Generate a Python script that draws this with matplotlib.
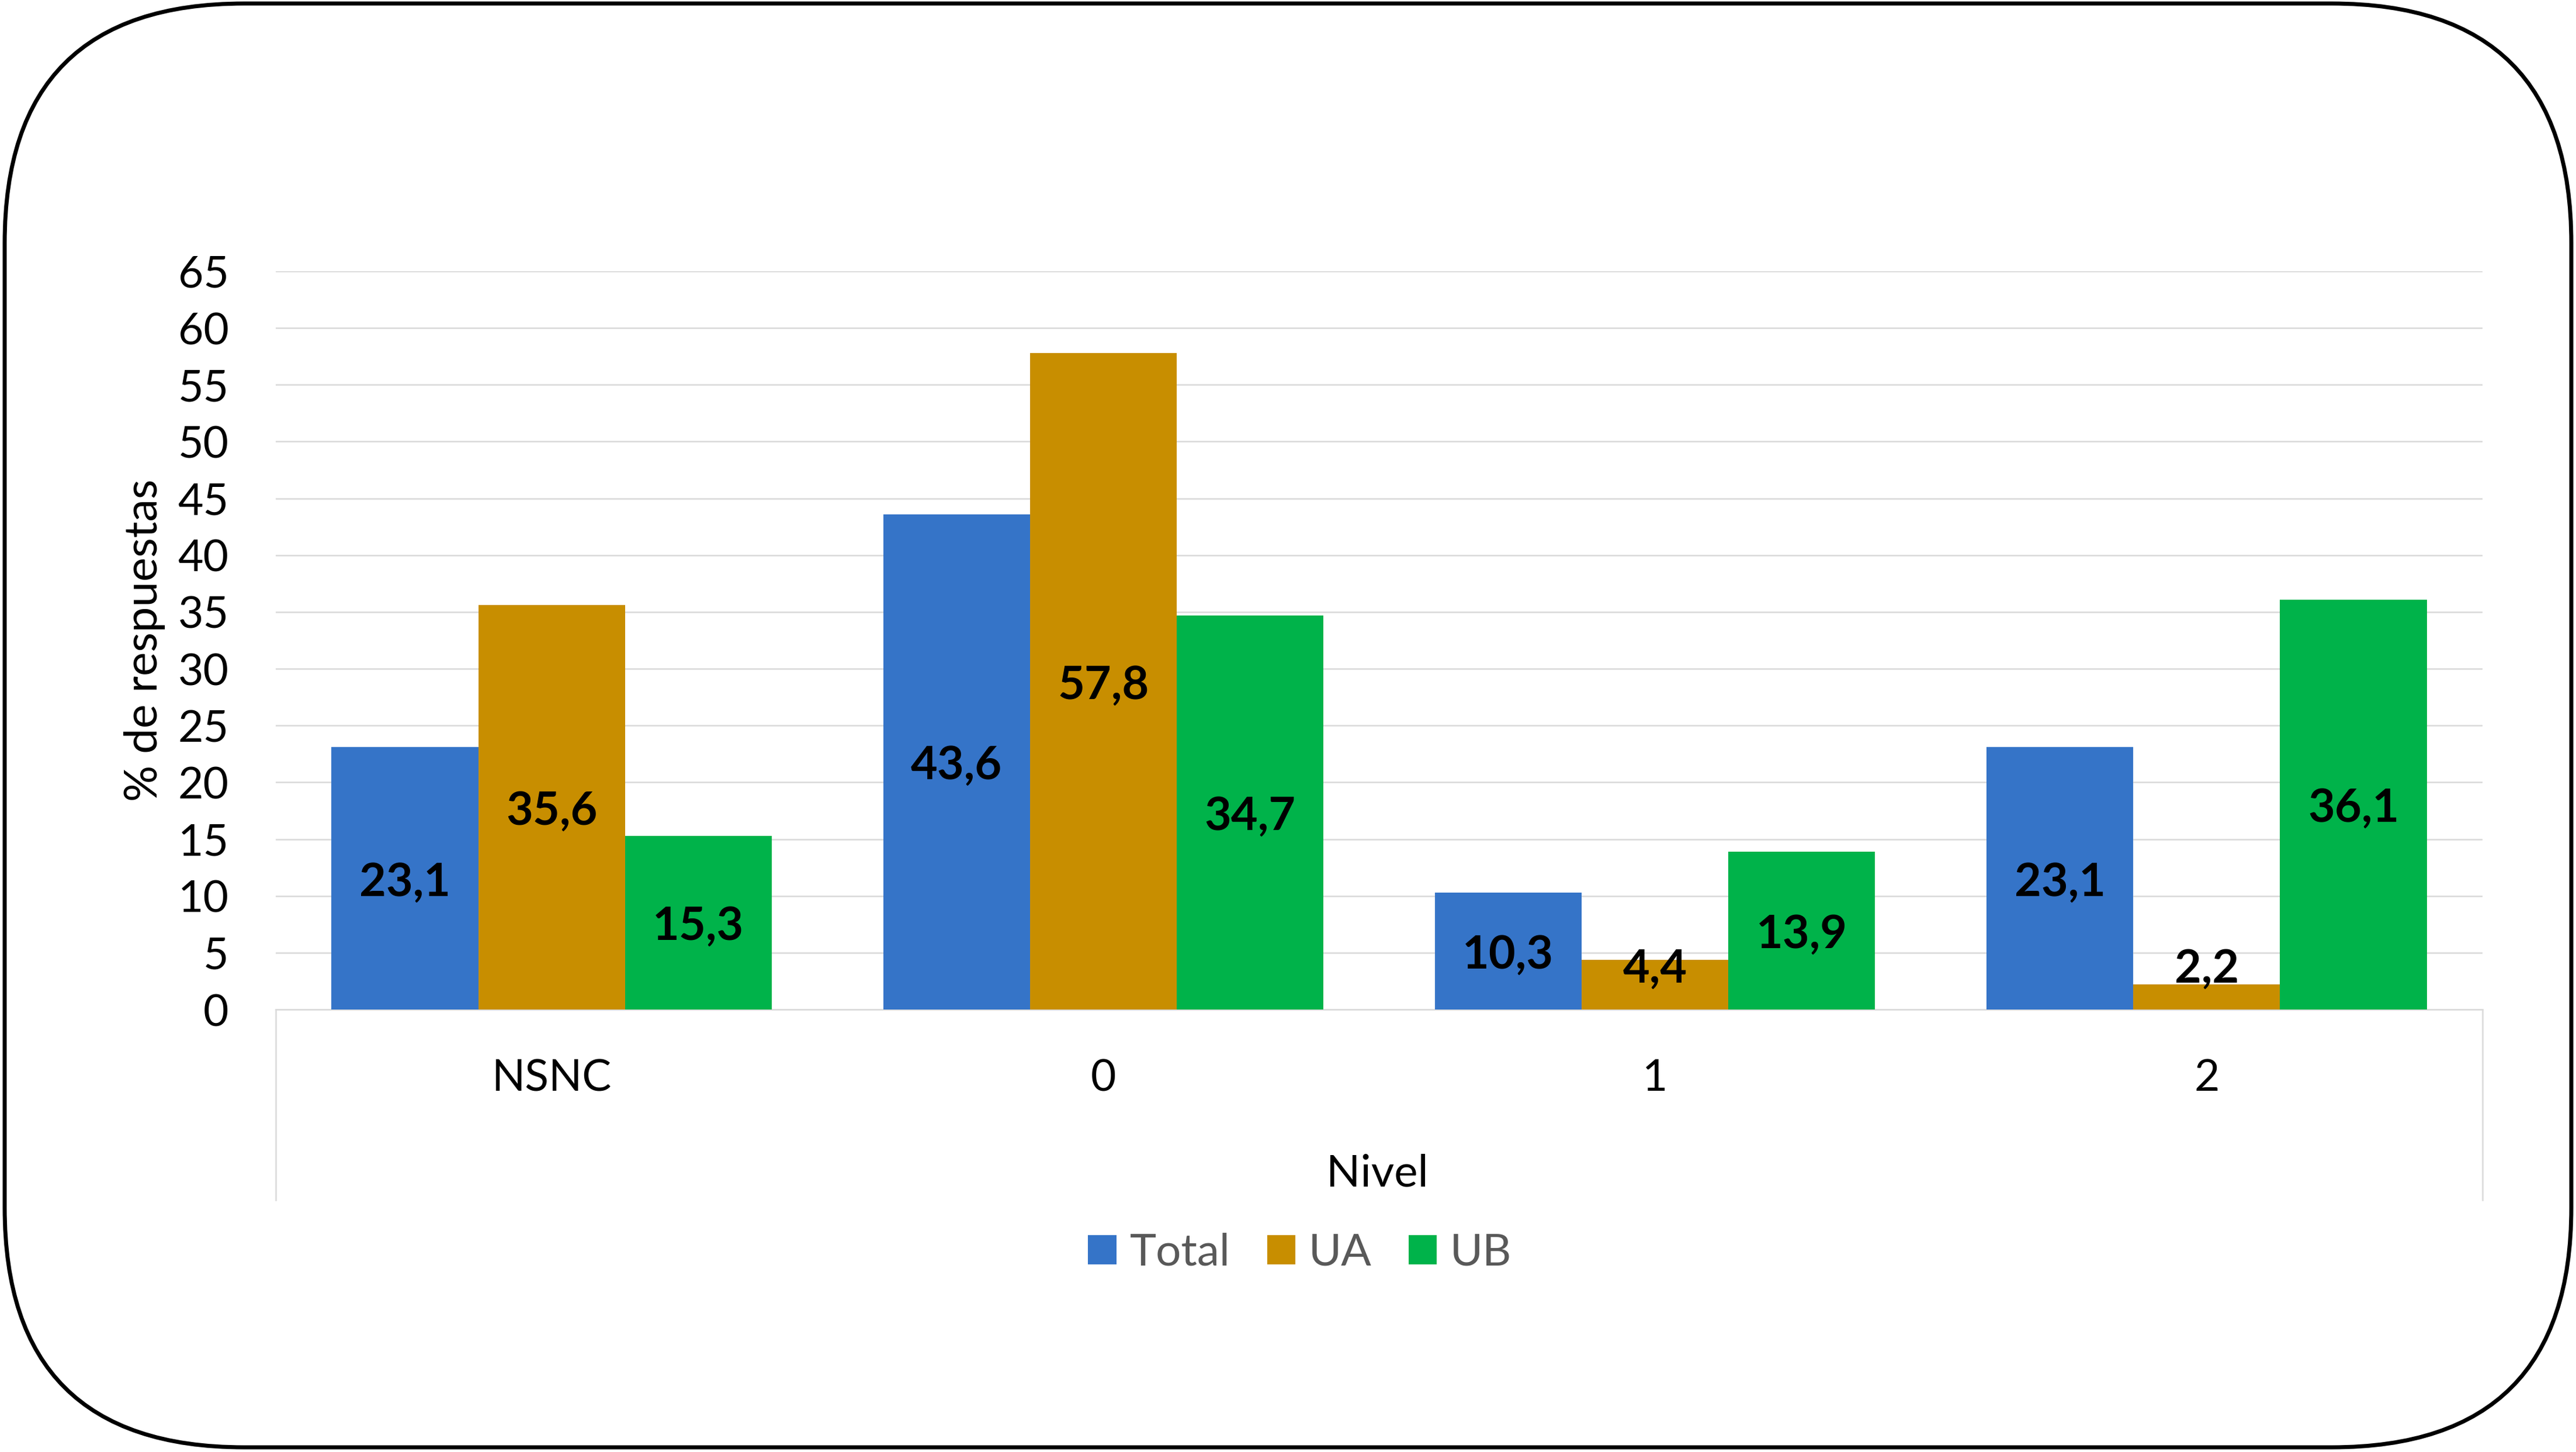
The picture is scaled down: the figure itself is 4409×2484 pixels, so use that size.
import matplotlib
matplotlib.use("Agg")
import matplotlib.pyplot as plt
from matplotlib.patches import FancyBboxPatch, Patch
from matplotlib.lines import Line2D
import numpy as np

categories = ["NSNC", "0", "1", "2"]
series_names = ["Total", "UA", "UB"]
total = [23.1, 43.6, 10.3, 23.1]
ua = [35.6, 57.8, 4.4, 2.2]
ub = [15.3, 34.7, 13.9, 36.1]
yticks = list(range(0, 70, 5))

colors = ["#3574C8", "#C88E00", "#00B34A"]

plt.rcParams['font.family'] = ['Lato', 'DejaVu Sans']

W, H = 4409, 2484
fig = plt.figure(figsize=(W / 100, H / 100), dpi=100, facecolor="white")

def fx(px):
    return px / W

def fy(py):
    return 1 - py / H

# rounded border
r = 410
border = FancyBboxPatch((fx(8), fy(2476)), fx(4401) - fx(8), fy(6) - fy(2476),
                        boxstyle=f"round,pad=0,rounding_size={r / W}",
                        mutation_aspect=W / H,
                        transform=fig.transFigure, facecolor="none",
                        edgecolor="black", linewidth=5.0, zorder=5)
fig.patches.append(border)

left, right, top, zero = 472, 4249, 464, 1727
ax = fig.add_axes([fx(left), fy(zero), fx(right) - fx(left), fy(top) - fy(zero)])
ax.set_facecolor("none")
ax.set_ylim(0, 65)
ax.set_xlim(-0.5, len(categories) - 0.5)

x = np.arange(len(categories))
bw = 268 / 335.75 / 3
for i, (vals, c, name) in enumerate(zip([total, ua, ub], colors, series_names)):
    bars = ax.bar(x + (i - 1) * bw, vals, width=bw, color=c, label=name, zorder=3)
    for b, v in zip(bars, vals):
        ypos = max(v / 2 - 0.4, 3.5)
        ax.text(b.get_x() + b.get_width() / 2, ypos, f"{v:.1f}".replace(".", ","),
                ha="center", va="center", fontsize=57, fontweight="bold",
                color="black", zorder=4)

ax.set_yticks(yticks)
ax.set_yticklabels([str(t) for t in yticks])
ax.yaxis.grid(True, color="#D9D9D9", linewidth=1.8, zorder=0)
ax.set_axisbelow(True)
for s in ["top", "right", "left"]:
    ax.spines[s].set_visible(False)
ax.spines["bottom"].set_color("#D9D9D9")
ax.spines["bottom"].set_linewidth(1.8)
ax.tick_params(axis="y", length=0, pad=58, labelsize=54, labelcolor="black")
ax.set_xticks(x)
ax.set_xticklabels(categories)
ax.tick_params(axis="x", length=0, pad=60, labelsize=54, labelcolor="black")

# category axis edge lines
for xp in (left, right):
    fig.add_artist(Line2D([fx(xp), fx(xp)], [fy(zero), fy(2053)],
                          transform=fig.transFigure, color="#D9D9D9", linewidth=1.8))

fig.text(fx(248), fy(1095), "% de respuestas", rotation=90, ha="center", va="center",
         fontsize=56, color="black")
fig.text(fx((left + right) / 2 - 3), fy(2008), "Nivel", ha="center", va="center",
         fontsize=55, color="black")

handles = [Patch(facecolor=c, edgecolor="none", label=n) for c, n in zip(colors, series_names)]
fig.legend(handles=handles, loc="center", bbox_to_anchor=(fx(2225), fy(2143)), ncol=3,
           frameon=False, fontsize=55, labelcolor="#595959", handlelength=0.63,
           handleheight=0.63, handletextpad=0.3, columnspacing=0.83, borderaxespad=0)

fig.savefig("out.png", dpi=100)
